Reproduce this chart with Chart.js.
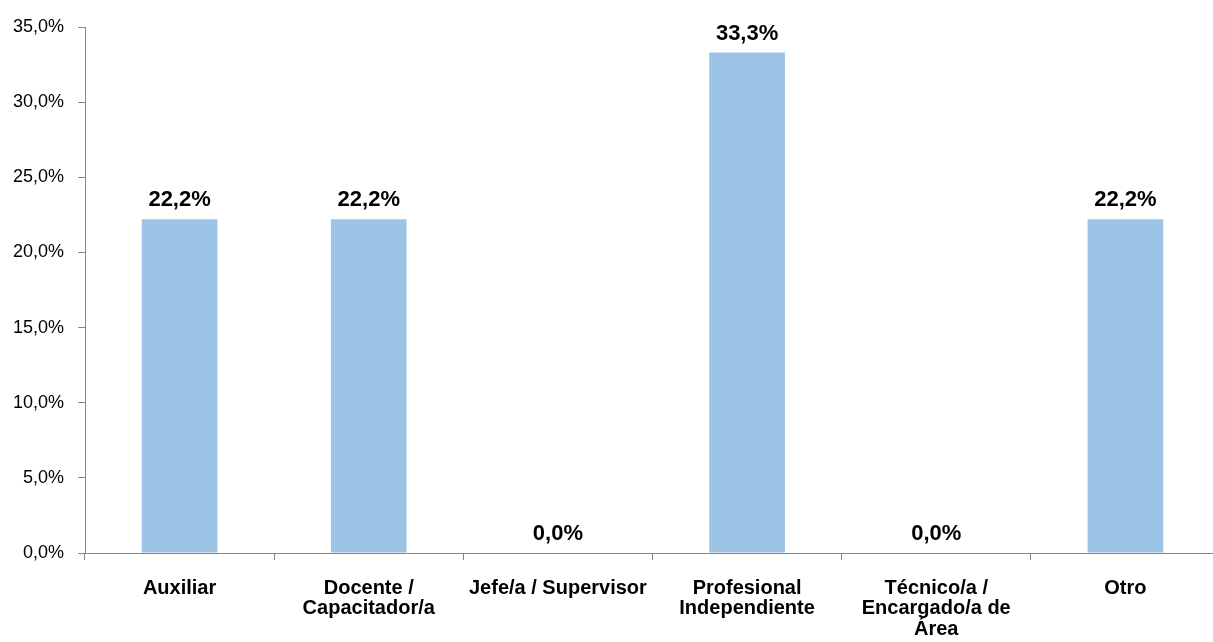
<!DOCTYPE html>
<html>
<head>
<meta charset="utf-8">
<script src="https://cdn.jsdelivr.net/npm/chart.js@4/dist/chart.umd.min.js"></script>
<style>
  html, body { margin: 0; padding: 0; background: #ffffff; overflow: hidden; width: 1213px; height: 642px; }
  #wrap { width: 1220px; height: 642px; position: relative; }
</style>
</head>
<body>
<div id="wrap"><canvas id="c"></canvas></div>
<script>
const categories = [
  ['Auxiliar'],
  ['Docente /', 'Capacitador/a'],
  ['Jefe/a / Supervisor'],
  ['Profesional', 'Independiente'],
  ['Técnico/a /', 'Encargado/a de', 'Área'],
  ['Otro']
];
const percentages = [22.2, 22.2, 0.0, 33.3, 0.0, 22.2];
const yTickMin = 0;
const yTickMax = 35;
const yTickStep = 5;

const FONT = "'Liberation Sans', Arial, Helvetica, sans-serif";
const AXIS_COLOR = '#868686';

function fmt(v) {
  return v.toFixed(1).replace('.', ',') + '%';
}

const valueLabels = {
  id: 'valueLabels',
  afterDatasetsDraw(chart) {
    const ctx = chart.ctx;
    const meta = chart.getDatasetMeta(0);
    ctx.save();
    ctx.font = 'bold 22px ' + FONT;
    ctx.fillStyle = '#000000';
    ctx.textAlign = 'center';
    ctx.textBaseline = 'alphabetic';
    meta.data.forEach((bar, i) => {
      ctx.fillText(fmt(percentages[i]), bar.x, bar.y - 13);
    });
    ctx.restore();
  }
};

new Chart(document.getElementById('c'), {
  type: 'bar',
  data: {
    labels: categories,
    datasets: [{
      data: percentages,
      backgroundColor: '#9DC3E6',
      borderWidth: 0,
      categoryPercentage: 1.0,
      barPercentage: 0.4
    }]
  },
  options: {
    responsive: true,
    maintainAspectRatio: false,
    animation: false,
    layout: { padding: { top: 27, right: 0, bottom: 0, left: 0 } },
    plugins: {
      legend: { display: false },
      tooltip: { enabled: false }
    },
    scales: {
      x: {
        grid: {
          display: true,
          offset: true,
          drawOnChartArea: false,
          drawTicks: true,
          tickLength: 7,
          color: AXIS_COLOR
        },
        border: { display: true, color: AXIS_COLOR, width: 1 },
        ticks: {
          color: '#000000',
          font: { family: FONT, size: 20, weight: 'bold', lineHeight: 1.02 },
          padding: 18,
          maxRotation: 0,
          autoSkip: false
        },
        afterFit(scale) { scale.height = 89; }
      },
      y: {
        min: yTickMin,
        max: yTickMax,
        grid: {
          display: true,
          drawOnChartArea: false,
          drawTicks: true,
          tickLength: 7,
          color: AXIS_COLOR
        },
        border: { display: true, color: AXIS_COLOR, width: 1 },
        ticks: {
          stepSize: yTickStep,
          color: '#000000',
          font: { family: FONT, size: 18 },
          padding: 14,
          callback: (v) => fmt(v)
        },
        afterFit(scale) { scale.width = 85; }
      }
    }
  },
  plugins: [valueLabels]
});
</script>
</body>
</html>
